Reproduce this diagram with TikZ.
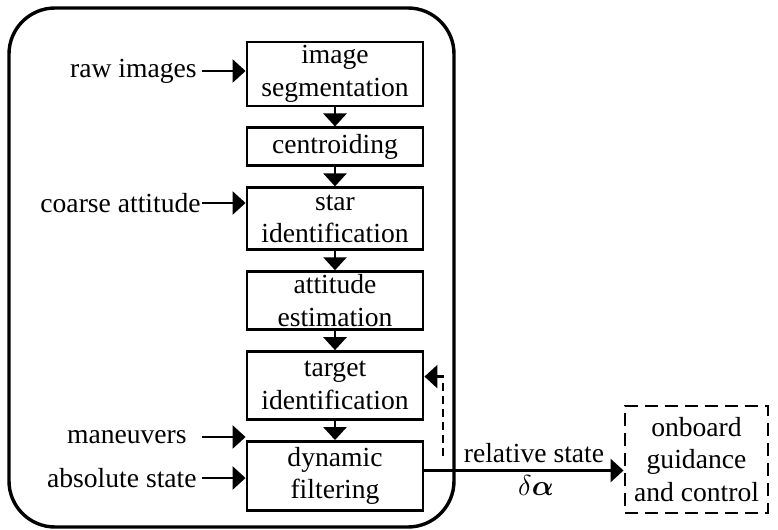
\documentclass[tikz,border=0pt]{standalone}
\usepackage{amsmath,amssymb,bm}
\usepackage{fontspec}
\setmainfont{Liberation Serif}
\usetikzlibrary{arrows.meta,positioning}
\tikzset{
  blk/.style={rectangle, draw, line width=1.45pt, minimum width=88pt, align=center, inner sep=0pt},
  gnc/.style={blk, dash pattern=on 6.5pt off 3.5pt, minimum width=71.5pt, minimum height=53.5pt},
  lbl/.style={anchor=east, inner sep=2.5pt},
  arr/.style={-{Triangle[length=6.5pt,width=11.5pt]}, line width=1.45pt},
  fb/.style={arr, dash pattern=on 4pt off 2.5pt},
  outer/.style={draw, line width=1.7pt, rounded corners=23pt}
}

\begin{document}
\begin{tikzpicture}[x=0.5pt, y=-0.5pt, node distance=9.5pt, font=\fontsize{13.8}{16.4}\selectfont]
\useasboundingbox (0,0) rectangle (778,530);
\draw[outer] (9,8) rectangle (454,527);
% processing chain
\node[blk, minimum height=32pt] (seg) at (335,74) {image\\segmentation};
\node[blk, minimum height=19pt, below=of seg] (cent) {centroiding};
\node[blk, minimum height=31pt, below=of cent] (star) {star\\identification};
\node[blk, minimum height=29pt, below=of star] (att) {attitude\\estimation};
\node[blk, minimum height=34pt, below=of att] (targ) {target\\identification};
\node[blk, minimum height=34.5pt, below=of targ] (dyn) {dynamic\\filtering};
\draw[arr] (seg) -- (cent); \draw[arr] (cent) -- (star); \draw[arr] (star) -- (att);
\draw[arr] (att) -- (targ); \draw[arr] (targ) -- (dyn);
% inputs
\node[lbl] (raw) at (202,71) {raw images};
\node[lbl, inner sep=0.5pt] (coarse) at (202,203) {coarse attitude};
\node[lbl] (man) at (192,437) {maneuvers};
\node[lbl] (abs) at (202,478) {absolute state};
\draw[arr] (raw.east) -- (raw.east -| seg.west);
\draw[arr] (coarse.east) -- (coarse.east -| star.west);
\draw[arr, shorten <=5pt] (man.east) -- (man.east -| dyn.west);
\draw[arr] (abs.east) -- (abs.east -| dyn.west);
% output and feedback
\node[gnc] (guid) at (696.5,459.5) {onboard\\guidance\\and control};
\draw[arr] ([yshift=2.75pt]dyn.east) -- ([yshift=2.75pt]dyn.east -| guid.west)
  node[above, pos=0.55] {relative state}
  node[below, pos=0.56, inner sep=2pt] {$\delta\bm{\alpha}$};
\coordinate (tap) at (443,456);
\draw[fb] (tap) |- ([yshift=4.5pt]targ.east);
\end{tikzpicture}
\end{document}
